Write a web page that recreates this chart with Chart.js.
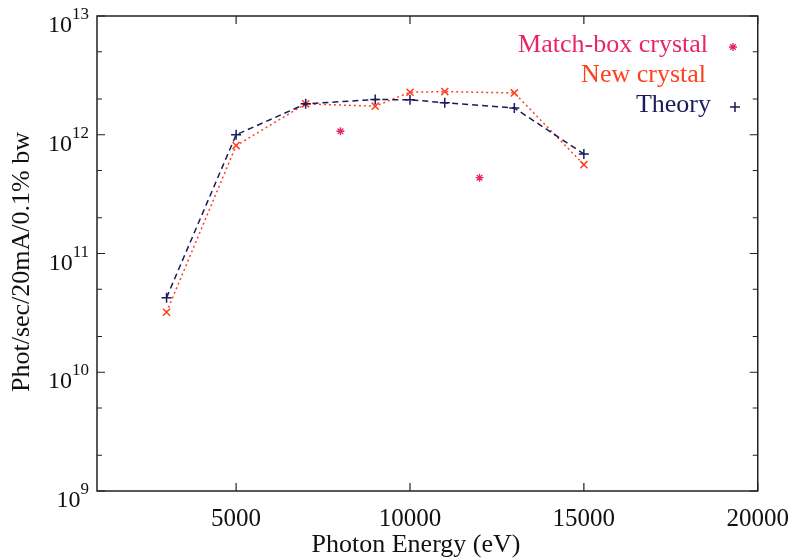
<!DOCTYPE html>
<html>
<head>
<meta charset="utf-8">
<script src="https://cdn.jsdelivr.net/npm/chart.js@4/dist/chart.umd.min.js"></script>
<style>
html,body{margin:0;padding:0;background:#fff;}
#wrap{width:802px;height:560px;}
</style>
</head>
<body>
<div id="wrap"><canvas id="c" width="802" height="560"></canvas></div>
<script>
// ---- data ----
const energies = [3000, 5000, 7000, 9000, 10000, 11000, 13000, 15000];
const theory = [4.25e10, 1.0e12, 1.82e12, 1.98e12, 1.97e12, 1.86e12, 1.68e12, 6.9e11];
const newCrystal = [3.2e10, 8.1e11, 1.82e12, 1.74e12, 2.28e12, 2.31e12, 2.25e12, 5.6e11];
const matchBoxEnergies = [8000, 12000];
const matchBox = [1.07e12, 4.35e11];
const xTicks = [5000, 10000, 15000, 20000];
const yExponents = [9, 10, 11, 12, 13];
const seriesNames = ["Match-box crystal", "New crystal", "Theory"];
const xTitle = "Photon Energy (eV)";
const yTitle = "Phot/sec/20mA/0.1% bw";

const SERIF = "'Liberation Serif', 'DejaVu Serif', serif";
const C_THEORY = "#1c1a5c";
const C_NEW = "#ff4020";
const C_MATCH = "#e8246a";

const toXY = (xs, ys) => xs.map((x, i) => ({x: x, y: ys[i]}));

const decor = {
  id: 'decor',
  afterDraw(chart) {
    const ctx = chart.ctx;
    const a = chart.chartArea;
    const xs = chart.scales.x, ys = chart.scales.y;
    ctx.save();
    // frame
    ctx.strokeStyle = "#222";
    ctx.lineWidth = 1.5;
    ctx.strokeRect(a.left, a.top, a.right - a.left, a.bottom - a.top);
    // y ticks (major + minor at 2 and 5)
    ctx.lineWidth = 1.2;
    yExponents.forEach(e => {
      const y = ys.getPixelForValue(Math.pow(10, e));
      ctx.beginPath();
      ctx.moveTo(a.left, y); ctx.lineTo(a.left + 8, y);
      ctx.moveTo(a.right, y); ctx.lineTo(a.right - 8, y);
      ctx.stroke();
      if (e < 13) {
        [2, 5].forEach(m => {
          const yy = ys.getPixelForValue(m * Math.pow(10, e));
          ctx.beginPath();
          ctx.moveTo(a.left, yy); ctx.lineTo(a.left + 5, yy);
          ctx.moveTo(a.right, yy); ctx.lineTo(a.right - 5, yy);
          ctx.stroke();
        });
      }
    });
    // x ticks
    xTicks.forEach(v => {
      const x = xs.getPixelForValue(v);
      ctx.beginPath();
      ctx.moveTo(x, a.bottom); ctx.lineTo(x, a.bottom - 8);
      ctx.moveTo(x, a.top); ctx.lineTo(x, a.top + 8);
      ctx.stroke();
    });
    // y labels with superscripts
    ctx.fillStyle = "#111";
    ctx.textBaseline = "alphabetic";
    yExponents.forEach(e => {
      const y = ys.getPixelForValue(Math.pow(10, e));
      const sup = String(e);
      ctx.font = "17px " + SERIF;
      const wSup = ctx.measureText(sup).width;
      const rightX = 89;
      ctx.textAlign = "right";
      ctx.fillText(sup, rightX, y + 3);
      ctx.font = "24px " + SERIF;
      ctx.fillText("10", rightX - wSup, y + 16);
    });
    // axis titles
    ctx.font = "26px " + SERIF;
    ctx.textAlign = "center";
    ctx.textBaseline = "middle";
    ctx.fillText(xTitle, 416, 545);
    ctx.save();
    ctx.translate(22, 262);
    ctx.rotate(-Math.PI / 2);
    ctx.fillText(yTitle, 0, 0);
    ctx.restore();
    // legend
    ctx.font = "26px " + SERIF;
    ctx.textAlign = "right";
    ctx.textBaseline = "middle";
    ctx.fillStyle = C_MATCH; ctx.fillText(seriesNames[0], 708, 45);
    ctx.fillStyle = C_NEW; ctx.fillText(seriesNames[1], 706, 75);
    ctx.fillStyle = C_THEORY; ctx.fillText(seriesNames[2], 711, 105);
    // legend markers
    ctx.strokeStyle = C_MATCH; ctx.lineWidth = 1.3;
    Chart.helpers.drawPoint(ctx, {pointStyle: 'star', radius: 4, borderWidth: 1.3}, 733, 47);
    ctx.strokeStyle = C_THEORY; ctx.lineWidth = 1.5;
    Chart.helpers.drawPoint(ctx, {pointStyle: 'cross', radius: 5, borderWidth: 1.5}, 735, 107);
    ctx.restore();
  }
};

new Chart(document.getElementById('c'), {
  type: 'scatter',
  data: {
    datasets: [
      {
        label: seriesNames[2],
        data: toXY(energies, theory),
        showLine: true,
        borderColor: C_THEORY,
        backgroundColor: C_THEORY,
        borderWidth: 1.5,
        borderDash: [6, 4],
        pointStyle: 'cross',
        pointRadius: 5,
        pointBorderWidth: 1.5,
        pointBorderColor: C_THEORY
      },
      {
        label: seriesNames[1],
        data: toXY(energies, newCrystal),
        showLine: true,
        borderColor: C_NEW,
        backgroundColor: C_NEW,
        borderWidth: 1.5,
        borderDash: [2, 3],
        pointStyle: 'crossRot',
        pointRadius: 5,
        pointBorderWidth: 1.5,
        pointBorderColor: C_NEW
      },
      {
        label: seriesNames[0],
        data: toXY(matchBoxEnergies, matchBox),
        showLine: false,
        borderColor: C_MATCH,
        backgroundColor: C_MATCH,
        pointStyle: 'star',
        pointRadius: 4,
        pointBorderWidth: 1.3,
        pointBorderColor: C_MATCH
      }
    ]
  },
  options: {
    responsive: false,
    animation: false,
    layout: {padding: {top: 16, right: 40, left: 0, bottom: 0}},
    plugins: {legend: {display: false}, tooltip: {enabled: false}},
    scales: {
      x: {
        type: 'linear', min: 1000, max: 20000,
        afterBuildTicks: s => { s.ticks = xTicks.map(v => ({value: v})); },
        afterFit: s => { s.height = 69; },
        grid: {display: false, drawTicks: false},
        border: {display: false},
        ticks: {
          autoSkip: false, maxRotation: 0, padding: 13,
          color: "#111",
          font: {family: SERIF, size: 25},
          callback: v => String(v)
        }
      },
      y: {
        type: 'logarithmic', min: 1e9, max: 1e13,
        afterFit: s => { s.width = 97; },
        grid: {display: false, drawTicks: false},
        border: {display: false},
        ticks: {display: false}
      }
    }
  },
  plugins: [decor]
});
</script>
</body>
</html>
